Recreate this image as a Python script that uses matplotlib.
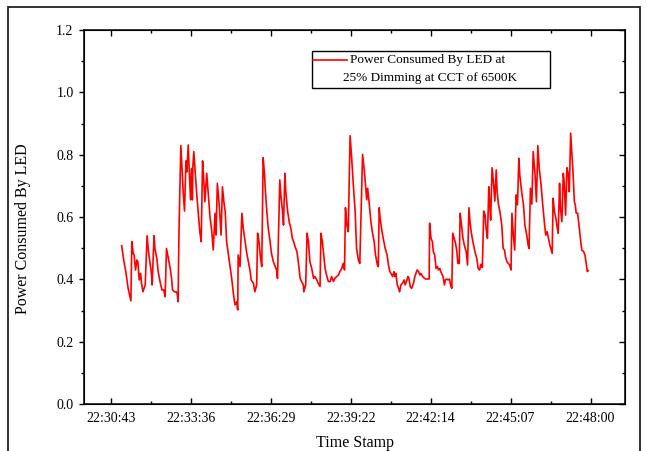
import matplotlib
matplotlib.use("Agg")
import matplotlib.pyplot as plt
from matplotlib.patches import Rectangle
from matplotlib.ticker import MultipleLocator, FixedLocator, FormatStrFormatter

# time stamp labels on the x axis (Origin style, one every 2:53)
tick_labels = ["22:30:43", "22:33:36", "22:36:29", "22:39:22",
               "22:42:14", "22:45:07", "22:48:00"]

# seconds elapsed since 22:30:43
t_sec = [
    23, 28, 32, 37, 43, 45, 48, 50, 53, 56, 58, 61, 64, 66, 69, 74, 78, 81, 84, 87,
    89, 93, 95, 99, 102, 106, 110, 114, 117, 120, 124, 128, 131, 133, 137, 141, 143, 145, 147, 151,
    154, 156, 159, 162, 164, 167, 169, 172, 174, 176, 177, 179, 182, 185, 189, 192, 195, 198, 200, 203,
    207, 210, 214, 218, 221, 225, 227, 230, 234, 238, 241, 244, 247, 250, 254, 257, 261, 265, 268, 272,
    274, 275, 279, 283, 286, 290, 293, 297, 301, 303, 308, 311, 315, 317, 320, 323, 326, 329, 332, 334,
    337, 340, 344, 347, 351, 355, 358, 360, 365, 368, 371, 373, 376, 378, 382, 386, 389, 392, 395, 398,
    402, 405, 409, 412, 416, 417, 421, 424, 427, 430, 434, 438, 441, 445, 448, 452, 454, 457, 460, 463,
    466, 470, 474, 477, 481, 484, 488, 492, 495, 499, 502, 505, 507, 510, 513, 517, 520, 524, 528, 531,
    535, 538, 544, 548, 551, 553, 555, 558, 562, 565, 569, 572, 576, 578, 580, 582, 586, 590, 593, 597,
    600, 603, 607, 609, 612, 614, 616, 619, 622, 624, 627, 630, 634, 636, 639, 642, 644, 647, 650, 654,
    657, 662, 665, 668, 670, 674, 678, 681, 686, 688, 689, 692, 695, 697, 700, 703, 706, 708, 711, 713,
    715, 718, 721, 723, 726, 729, 732, 735, 737, 739, 742, 745, 748, 750, 753, 755, 758, 761, 764, 768,
    771, 774, 777, 780, 784, 787, 791, 794, 797, 800, 803, 806, 809, 811, 814, 817, 819, 821, 824, 827,
    830, 833, 835, 838, 841, 845, 848, 851, 853, 856, 859, 862, 865, 867, 870, 873, 876, 879, 882, 884,
    888, 892, 895, 899, 902, 904, 907, 910, 913, 917, 920, 923, 926, 930, 933, 937, 940, 943, 946, 949,
    951, 954, 956, 959, 962, 964, 967, 970, 972, 975, 978, 980, 983, 986, 989, 991, 994, 996, 999, 1002,
    1004, 1006, 1009, 1012, 1015, 1018, 1022, 1025, 1028, 1030, 1032,
]

power = [
    0.508, 0.457, 0.425, 0.371, 0.331, 0.521, 0.483, 0.478, 0.430, 0.462, 0.457, 0.398, 0.419, 0.387, 0.360, 0.382, 0.540, 0.489, 0.457, 0.425,
    0.382, 0.540, 0.499, 0.467, 0.425, 0.393, 0.366, 0.366, 0.344, 0.499, 0.467, 0.435, 0.403, 0.366, 0.360, 0.360, 0.355, 0.328, 0.553, 0.829,
    0.745, 0.681, 0.619, 0.780, 0.745, 0.831, 0.756, 0.655, 0.756, 0.655, 0.762, 0.810, 0.745, 0.681, 0.606, 0.553, 0.521, 0.780, 0.735, 0.649,
    0.740, 0.681, 0.601, 0.553, 0.494, 0.612, 0.542, 0.708, 0.639, 0.542, 0.697, 0.649, 0.617, 0.521, 0.478, 0.446, 0.403, 0.350, 0.318, 0.328,
    0.302, 0.478, 0.441, 0.612, 0.564, 0.521, 0.489, 0.457, 0.425, 0.398, 0.387, 0.360, 0.382, 0.548, 0.521, 0.473, 0.441, 0.790, 0.735, 0.681,
    0.617, 0.564, 0.521, 0.483, 0.457, 0.441, 0.430, 0.403, 0.719, 0.660, 0.617, 0.574, 0.740, 0.681, 0.617, 0.580, 0.564, 0.532, 0.521, 0.505,
    0.489, 0.457, 0.403, 0.393, 0.382, 0.360, 0.382, 0.548, 0.521, 0.457, 0.435, 0.403, 0.409, 0.398, 0.387, 0.377, 0.548, 0.521, 0.478, 0.435,
    0.414, 0.393, 0.393, 0.409, 0.393, 0.403, 0.409, 0.414, 0.425, 0.435, 0.451, 0.430, 0.630, 0.574, 0.553, 0.861, 0.799, 0.703, 0.617, 0.499,
    0.462, 0.451, 0.801, 0.745, 0.692, 0.655, 0.692, 0.649, 0.585, 0.553, 0.521, 0.478, 0.446, 0.441, 0.630, 0.596, 0.553, 0.521, 0.499, 0.478,
    0.446, 0.425, 0.414, 0.409, 0.425, 0.409, 0.419, 0.382, 0.371, 0.360, 0.382, 0.387, 0.398, 0.382, 0.393, 0.409, 0.405, 0.377, 0.371, 0.387,
    0.409, 0.430, 0.425, 0.414, 0.419, 0.409, 0.403, 0.401, 0.401, 0.401, 0.580, 0.532, 0.521, 0.489, 0.478, 0.435, 0.441, 0.430, 0.435, 0.425,
    0.419, 0.409, 0.382, 0.398, 0.401, 0.398, 0.401, 0.377, 0.371, 0.548, 0.532, 0.516, 0.489, 0.451, 0.451, 0.612, 0.574, 0.532, 0.510, 0.489,
    0.446, 0.630, 0.574, 0.542, 0.510, 0.489, 0.467, 0.435, 0.430, 0.448, 0.438, 0.619, 0.606, 0.564, 0.532, 0.697, 0.639, 0.590, 0.758, 0.713,
    0.651, 0.751, 0.681, 0.639, 0.617, 0.574, 0.499, 0.494, 0.473, 0.457, 0.451, 0.446, 0.430, 0.612, 0.542, 0.494, 0.671, 0.639, 0.788, 0.735,
    0.681, 0.639, 0.574, 0.542, 0.510, 0.499, 0.692, 0.641, 0.810, 0.735, 0.649, 0.829, 0.756, 0.703, 0.649, 0.585, 0.542, 0.553, 0.532, 0.510,
    0.499, 0.483, 0.660, 0.617, 0.596, 0.574, 0.548, 0.708, 0.628, 0.585, 0.740, 0.713, 0.606, 0.758, 0.735, 0.681, 0.869, 0.820, 0.745, 0.649,
    0.639, 0.612, 0.612, 0.574, 0.532, 0.494, 0.489, 0.478, 0.446, 0.425, 0.428,
]

legend_lines = ["Power Consumed By LED at", "25% Dimming at CCT of 6500K"]


def to_sec(stamp, ref):
    h, m, s = (int(v) for v in stamp.split(":"))
    h0, m0, s0 = (int(v) for v in ref.split(":"))
    return (h - h0) * 3600 + (m - m0) * 60 + (s - s0)


tick_pos = [to_sec(lbl, tick_labels[0]) for lbl in tick_labels]
minor_pos = [(a + b) / 2 for a, b in zip(tick_pos[:-1], tick_pos[1:])]

plt.rcParams["font.family"] = ["Liberation Serif", "DejaVu Serif"]

fig = plt.figure(figsize=(6.47, 4.51), dpi=100)
ax = fig.add_axes([84 / 647, 1 - 404 / 451, 541 / 647, 374 / 451])

ax.plot(t_sec, power, color="#ff0000", lw=1.2)

ax.set_xlim(-58.4, 1111.5)
ax.set_ylim(0, 1.2)

ax.xaxis.set_major_locator(FixedLocator(tick_pos))
ax.xaxis.set_minor_locator(FixedLocator(minor_pos))
ax.set_xticklabels(tick_labels)
ax.yaxis.set_major_locator(MultipleLocator(0.2))
ax.yaxis.set_minor_locator(MultipleLocator(0.1))
ax.yaxis.set_major_formatter(FormatStrFormatter("%.1f"))

ax.tick_params(axis="x", which="both", direction="in", top=True, labelsize=10, pad=6, width=1.0)
ax.tick_params(axis="x", which="major", length=4)
ax.tick_params(axis="x", which="minor", length=2.5)
ax.tick_params(axis="y", which="both", direction="out", labelsize=10, pad=4, width=1.0)
ax.tick_params(axis="y", which="major", length=3.5)
ax.tick_params(axis="y", which="minor", length=2.2)
for sp in ax.spines.values():
    sp.set_linewidth(1.1)

# right side gets inward ticks
ax2 = ax.twinx()
ax2.set_ylim(0, 1.2)
ax2.yaxis.set_major_locator(MultipleLocator(0.2))
ax2.yaxis.set_minor_locator(MultipleLocator(0.1))
ax2.tick_params(axis="y", which="both", direction="in", labelright=False, width=1.0)
ax2.tick_params(axis="y", which="major", length=4)
ax2.tick_params(axis="y", which="minor", length=2.5)

ax.set_xlabel("Time Stamp", fontsize=11.5)
ax.xaxis.set_label_coords(0.5, -0.083)
ax.set_ylabel("Power Consumed By LED", fontsize=11.5)
ax.yaxis.set_label_coords(-0.098, 0.468)

# Origin-style legend box
ax.add_patch(Rectangle((0.4214, 0.8449), 0.44, 0.099, transform=ax.transAxes,
                       fill=False, lw=1.0, ec="black", zorder=5))
ax.plot([0.4233, 0.4861], [0.9198, 0.9198], transform=ax.transAxes,
        color="#ff0000", lw=1.2, zorder=5)
ax.text(0.6359, 0.9198, legend_lines[0], transform=ax.transAxes,
        ha="center", va="center", fontsize=9.5, zorder=5)
ax.text(0.6396, 0.8709, legend_lines[1], transform=ax.transAxes,
        ha="center", va="center", fontsize=9.5, zorder=5)

# outer frame around the figure (open at the bottom edge)
fig.patches.append(Rectangle((7.5 / 647, -0.1), (640 - 7.5) / 647, 1.1 - 7.5 / 451,
                             transform=fig.transFigure, fill=False, lw=1.3, ec="#222222"))

fig.savefig("out.png", dpi=100)
